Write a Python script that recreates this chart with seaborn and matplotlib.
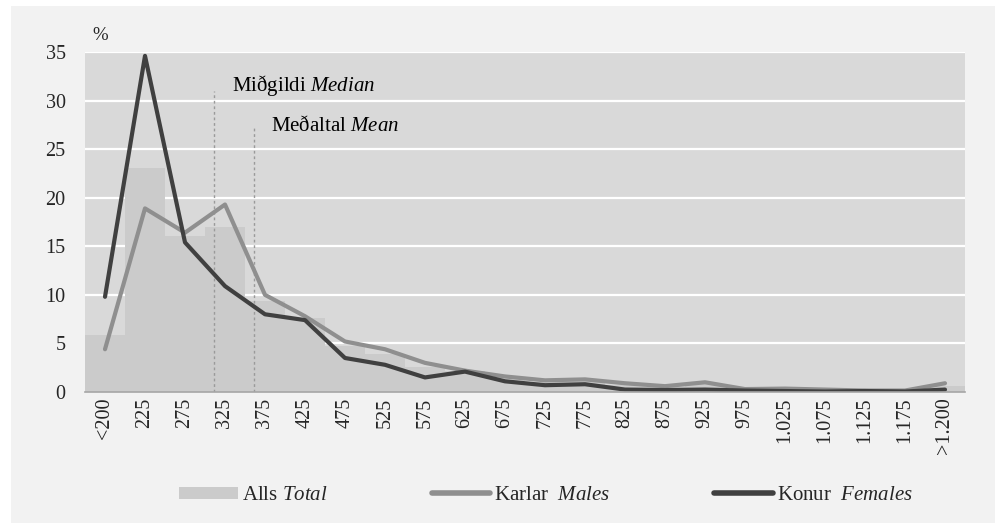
import numpy as np
import pandas as pd
import matplotlib
matplotlib.use("Agg")
import matplotlib.pyplot as plt
import seaborn as sns
from matplotlib.patches import Patch, Rectangle
from matplotlib.lines import Line2D

# ---- data ----
categories = ["<200", "225", "275", "325", "375", "425", "475", "525", "575", "625",
              "675", "725", "775", "825", "875", "925", "975", "1.025", "1.075",
              "1.125", "1.175", ">1.200"]
total = [5.9, 23.1, 16.1, 17.0, 9.4, 7.6, 4.7, 3.9, 2.6, 2.2,
         1.5, 1.05, 1.15, 0.7, 0.5, 0.8, 0.25, 0.3, 0.2, 0.15, 0.1, 0.65]
males = [4.4, 18.9, 16.4, 19.3, 10.0, 7.8, 5.2, 4.4, 3.0, 2.2,
         1.6, 1.2, 1.3, 0.9, 0.6, 1.0, 0.3, 0.35, 0.25, 0.15, 0.15, 0.9]
females = [9.8, 34.6, 15.4, 10.9, 8.0, 7.4, 3.5, 2.8, 1.5, 2.1,
           1.1, 0.7, 0.8, 0.25, 0.2, 0.25, 0.15, 0.1, 0.05, 0.1, 0.05, 0.25]
median_value = 311
mean_value = 361
median_top = 31.0
mean_top = 27.3
yticks = [0, 5, 10, 15, 20, 25, 30, 35]

df = pd.DataFrame({"cat": categories, "total": total, "males": males, "females": females})

# ---- style ----
sns.set_style("white", rc={"axes.facecolor": "#d9d9d9"})
plt.rcParams["font.family"] = ["Liberation Serif", "DejaVu Serif"]
plt.rcParams["mathtext.fontset"] = "custom"
plt.rcParams["mathtext.rm"] = "Liberation Serif"
plt.rcParams["mathtext.it"] = "Liberation Serif:italic"

C_TOTAL = "#cbcbcb"
C_MALE = "#8f8f8f"
C_FEMALE = "#404040"

fig = plt.figure(figsize=(10, 5.32), dpi=100, facecolor="white")
fig.patches.append(Rectangle((11 / 1000, 1 - 523 / 532), (995 - 11) / 1000, (523 - 6) / 532,
                             transform=fig.transFigure, facecolor="#f2f2f2",
                             edgecolor="none", zorder=-10))

ax = fig.add_axes([0.085, 1 - 392 / 532, 0.88, (392 - 52) / 532])
ax.set_facecolor("#d9d9d9")
ax.set_axisbelow(True)

sns.barplot(data=df, x="cat", y="total", color=C_TOTAL, saturation=1, width=1.0,
            ax=ax, zorder=2, linewidth=0)

# median / mean reference lines (category index units: 225 -> 1, step 50)
med_idx = 1 + (median_value - 225) / 50
mean_idx = 1 + (mean_value - 225) / 50
ax.plot([med_idx, med_idx], [0, median_top], color="#9a9a9a", lw=1, ls=(0, (2, 2)), zorder=3)
ax.plot([mean_idx, mean_idx], [0, mean_top], color="#9a9a9a", lw=1, ls=(0, (2, 2)), zorder=3)

sns.pointplot(data=df, x="cat", y="males", color=C_MALE, errorbar=None, markers="",
              linewidth=3.0, ax=ax, zorder=4)
sns.pointplot(data=df, x="cat", y="females", color=C_FEMALE, errorbar=None, markers="",
              linewidth=3.0, ax=ax, zorder=5)

ax.text(med_idx + 0.45, median_top, "Miðgildi $\\it{Median}$", fontsize=15,
        va="baseline", ha="left", color="black", zorder=6)
ax.text(mean_idx + 0.43, mean_top - 0.4, "Meðaltal $\\it{Mean}$", fontsize=15,
        va="baseline", ha="left", color="black", zorder=6)

ax.set_xlim(-0.5, len(categories) - 0.5)
ax.set_ylim(0, 35)
ax.set_yticks(yticks)
ax.yaxis.grid(True, color="white", lw=1.6)
ax.xaxis.grid(False)
for s in ["top", "right", "left"]:
    ax.spines[s].set_visible(False)
ax.spines["bottom"].set_color("#a6a6a6")
ax.spines["bottom"].set_linewidth(1.2)
ax.spines["bottom"].set_zorder(6)
ax.tick_params(axis="y", length=0, pad=14, labelsize=14.5)
ax.tick_params(axis="x", length=0, pad=4, labelsize=14.5, rotation=90)
ax.set_xlabel("")
ax.set_ylabel("")

fig.text(0.092, 1 - 40 / 532, "%", fontsize=13.5, va="baseline", ha="left")

handles = [Patch(facecolor=C_TOTAL, edgecolor="none"),
           Line2D([], [], color=C_MALE, lw=4, solid_capstyle="round"),
           Line2D([], [], color=C_FEMALE, lw=4, solid_capstyle="round")]
labels = ["Alls $\\it{Total}$", "Karlar  $\\it{Males}$", "Konur  $\\it{Females}$"]
fig.legend(handles, labels, loc="center", bbox_to_anchor=(0.546, 1 - 495.5 / 532), ncol=3,
           frameon=False, fontsize=15, handlelength=2.8, handleheight=0.5,
           handletextpad=0.2, columnspacing=5.0)

fig.savefig("out.png", dpi=100, facecolor=fig.get_facecolor())
